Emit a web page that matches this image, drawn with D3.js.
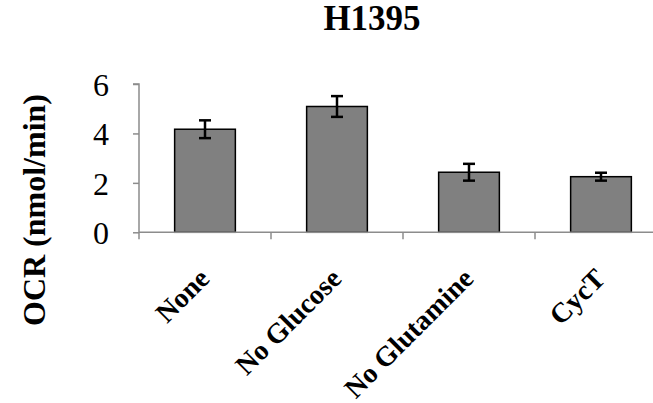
<!DOCTYPE html>
<html><head><meta charset="utf-8">
<script src="https://cdn.jsdelivr.net/npm/d3@7"></script>
<style>body{margin:0;background:#fff}svg{display:block}</style>
</head><body>
<script>
const categories = ["None", "No Glucose", "No Glutamine", "CycT"];
const values = [4.17, 5.09, 2.43, 2.25];
const errors = [0.36, 0.42, 0.34, 0.16];
const yTicks = [0, 2, 4, 6];
const title = "H1395";
const yLabel = "OCR (nmol/min)";

const W = 653, H = 403;
const svg = d3.select("body").append("svg").attr("width", W).attr("height", H)
  .style("font-family", '"Liberation Serif"');
const font = '"Liberation Serif"';

const x = d3.scaleBand().domain(categories).range([139, 667]).paddingInner(0.54).paddingOuter(0.27);
const y = d3.scaleLinear().domain([0, 6]).range([232.3, 84]);
const axisColor = "#8c8c8c";

// title
svg.append("text").attr("x", 372).attr("y", 30).attr("text-anchor", "middle")
  .style("font-family", font).style("font-weight", "bold").style("font-size", "35px").text(title);

// y axis
const yAxis = svg.append("g").attr("transform", "translate(139,0)")
  .call(d3.axisLeft(y).tickValues(yTicks).tickSize(6).tickPadding(24).tickFormat(d3.format("d")));
yAxis.attr("font-family", null).attr("font-size", null);
yAxis.selectAll("path,line").attr("stroke", axisColor).attr("stroke-width", 1.5);
yAxis.select(".domain").attr("d", `M-6,${y(6)}H0V${y(0)}`);
yAxis.selectAll("text").style("font-family", font).style("font-size", "32px").attr("fill", "#000").attr("dy", "0.35em");

// bars
svg.append("g").selectAll("rect").data(categories).join("rect")
  .attr("x", d => x(d)).attr("width", x.bandwidth())
  .attr("y", (d, i) => y(values[i])).attr("height", (d, i) => y(0) - y(values[i]))
  .attr("fill", "#808080").attr("stroke", "#000").attr("stroke-width", 1.5);

// x axis
const xb = d3.scaleLinear().domain([0, 4]).range([139, 667]);
const xAxis = svg.append("g").attr("transform", `translate(0,${y(0)})`);
xAxis.append("line").attr("x1", 139).attr("x2", 667).attr("y1", 0).attr("y2", 0)
  .attr("stroke", axisColor).attr("stroke-width", 1.5);
xAxis.selectAll("line.tk").data([0, 1, 2, 3]).join("line").attr("class", "tk")
  .attr("x1", d => xb(d)).attr("x2", d => xb(d)).attr("y1", 0).attr("y2", 7)
  .attr("stroke", axisColor).attr("stroke-width", 1.5);

// error bars
const eb = svg.append("g").attr("stroke", "#000").attr("stroke-width", 2.5);
categories.forEach((c, i) => {
  const cx = x(c) + x.bandwidth() / 2;
  const top = y(values[i] + errors[i]), bot = y(values[i] - errors[i]);
  eb.append("line").attr("x1", cx).attr("x2", cx).attr("y1", top).attr("y2", bot);
  eb.append("line").attr("x1", cx - 6).attr("x2", cx + 6).attr("y1", top).attr("y2", top);
  eb.append("line").attr("x1", cx - 6).attr("x2", cx + 6).attr("y1", bot).attr("y2", bot);
});

// category labels
svg.append("g").selectAll("text").data(categories).join("text")
  .attr("transform", d => `translate(${x(d) + x.bandwidth() / 2 + 6},${y(0) + 48}) rotate(-45)`)
  .attr("text-anchor", "end").style("font-family", font).style("font-weight", "bold")
  .style("font-size", "28px").text(d => d);

// y label
svg.append("text").attr("transform", "translate(45,210) rotate(-90)").attr("text-anchor", "middle")
  .style("font-family", font).style("font-weight", "bold").style("font-size", "32px").text(yLabel);
</script>
</body></html>
